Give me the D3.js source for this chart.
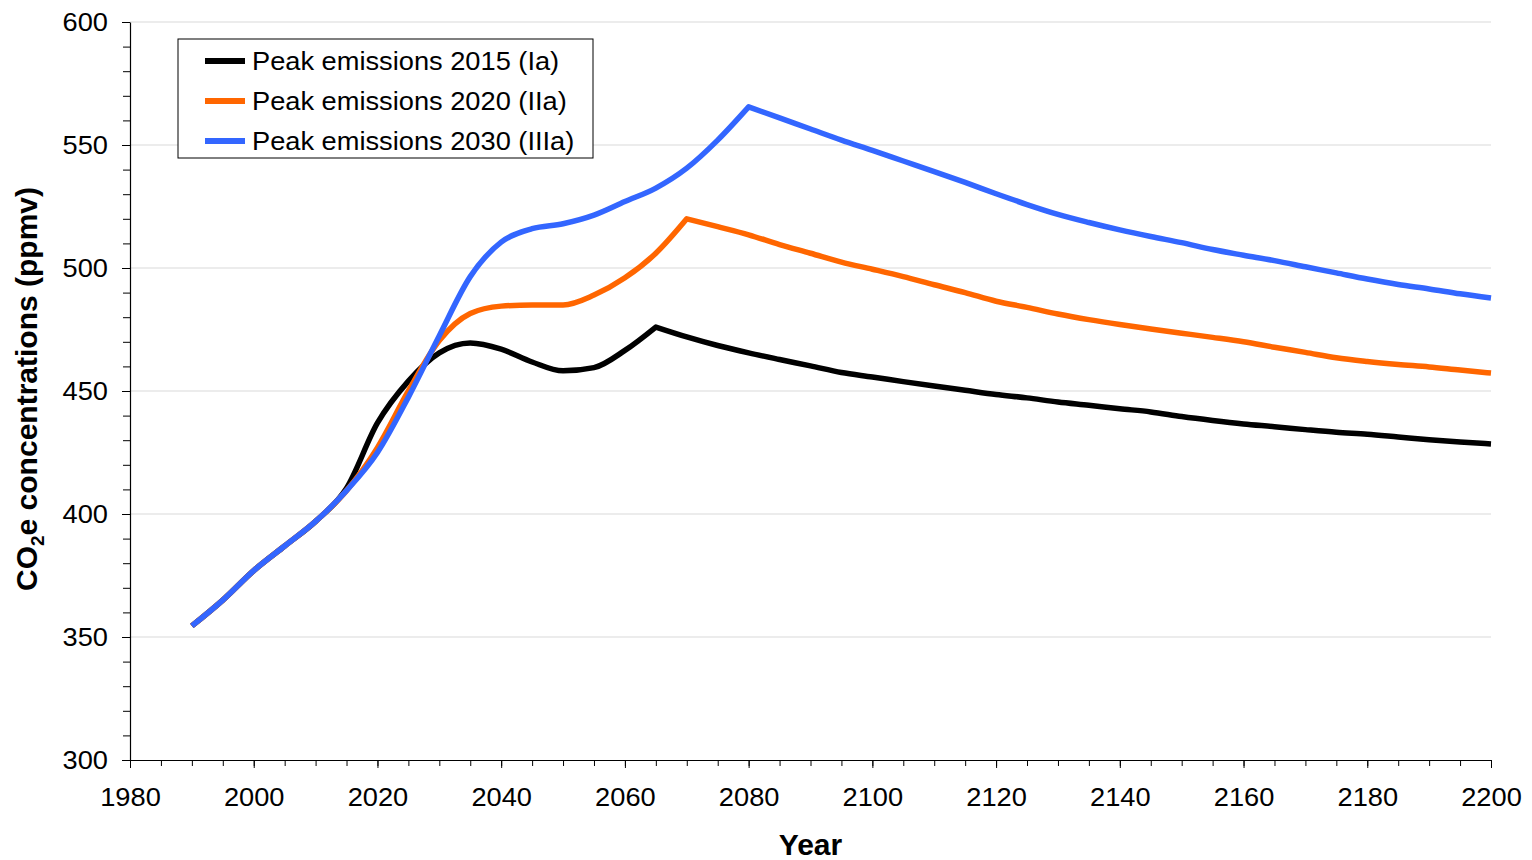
<!DOCTYPE html>
<html>
<head>
<meta charset="utf-8">
<script src="https://cdn.jsdelivr.net/npm/d3@7"></script>
<style>
  body { margin: 0; background: #fff; }
  svg text { font-family: "Liberation Sans", Arial, sans-serif; fill: #000; }
  .wide { transform-box: fill-box; transform: scaleX(1.09); }
  .y-lab { transform-origin: right center; }
  .x-lab { transform-origin: center center; }
  .leg-lab { transform-origin: left center; }
</style>
</head>
<body>
<svg id="chart"></svg>
<script>
// years sampled every 5 years
const years = d3.range(1990, 2201, 5);

const peak2015 = [354.5, 365, 377, 387, 397, 410.5, 437, 454, 465.5, 469.5, 467, 461.8, 458.2, 459.5, 466.5, 476,
  472, 468.5, 465.5, 462.8, 460.2, 457.5, 455.7, 453.8, 452, 450.3, 448.6, 447.2, 445.5, 444.2, 442.8,
  441.5, 439.6, 438, 436.6, 435.5, 434.3, 433.2, 432.4, 431.3, 430.2, 429.3, 428.5];
const peak2020 = [354.5, 365, 377, 387, 397, 409.5, 427, 450, 470.5, 481.5, 484.5, 485, 485, 489, 496, 506,
  520, 516.8, 513.5, 509.5, 506, 502.4, 499.5, 496.5, 493.2, 490, 486.5, 484, 481.3, 479, 477,
  475.2, 473.5, 471.8, 470, 467.8, 465.7, 463.5, 462, 460.8, 459.8, 458.5, 457.3];
const peak2030 = [354.5, 365, 377, 387, 397, 409.5, 425, 447.5, 472.5, 496.5, 510.5, 516, 518, 521.5, 527, 532.5,
  540.6, 552, 565.5, 561, 556.5, 552, 547.8, 543.5, 539.2, 534.8, 530.2, 525.8, 521.8, 518.5, 515.5,
  512.8, 510.3, 507.5, 505.2, 503, 500.5, 498, 495.5, 493.3, 491.5, 489.5, 487.8];

const seriesNames = ["Peak emissions 2015 (Ia)", "Peak emissions 2020 (IIa)", "Peak emissions 2030 (IIIa)"];
const seriesColors = ["#000000", "#ff6600", "#3366ff"];
const seriesValues = [peak2015, peak2020, peak2030];

const xTicks = d3.range(1980, 2201, 20);
const yTicks = d3.range(300, 601, 50);

const width = 1532, height = 860;
const margin = {top: 22, right: 41, bottom: 100, left: 130};
const innerW = width - margin.left - margin.right;
const innerH = height - margin.top - margin.bottom;

const svg = d3.select("#chart").attr("width", width).attr("height", height);
const chart = svg.append("g").attr("transform", `translate(${margin.left},${margin.top})`);

const x = d3.scaleLinear().domain([1980, 2200]).range([0, innerW]);
const y = d3.scaleLinear().domain([300, 600]).range([innerH, 0]);

// gridlines
chart.append("g")
  .selectAll("line")
  .data(yTicks.slice(1))
  .join("line")
    .attr("x1", 0).attr("x2", innerW)
    .attr("y1", d => y(d)).attr("y2", d => y(d))
    .attr("stroke", "#d9d9d9").attr("stroke-width", 1);

// minor ticks
chart.append("g")
  .call(d3.axisLeft(y).tickValues(d3.range(300, 601, 10)).tickSize(7).tickFormat(""))
  .call(g => g.select(".domain").remove())
  .selectAll("line").attr("stroke", "#000");
chart.append("g")
  .attr("transform", `translate(0,${innerH})`)
  .call(d3.axisBottom(x).tickValues(d3.range(1980, 2201, 5)).tickSize(6).tickFormat(""))
  .call(g => g.select(".domain").remove())
  .selectAll("line").attr("stroke", "#000");

// main axes
const yAxis = chart.append("g")
  .call(d3.axisLeft(y).tickValues(yTicks).tickSize(8).tickPadding(14).tickSizeOuter(0));
const xAxis = chart.append("g")
  .attr("transform", `translate(0,${innerH})`)
  .call(d3.axisBottom(x).tickValues(xTicks).tickFormat(d3.format("d")).tickSize(8).tickPadding(20).tickSizeOuter(0));

[yAxis, xAxis].forEach(a => {
  a.select(".domain").attr("stroke", "#000").attr("stroke-width", 1.2);
  a.selectAll("line").attr("stroke", "#000");
  a.selectAll("text").attr("font-size", 25).attr("fill", "#000")
    .style("font-family", "'Liberation Sans', Arial, sans-serif");
});
yAxis.selectAll("text").attr("class", "wide y-lab");
xAxis.selectAll("text").attr("class", "wide x-lab");

// smooth curve on each side of the peak, sharp corner at the peak
const line = d3.line()
  .x(d => x(d[0]))
  .y(d => y(d[1]))
  .curve(d3.curveMonotoneX);

function peakPath(vals) {
  const pts = vals.map((v, i) => [years[i], v]);
  const k = d3.maxIndex(vals);
  const a = line(pts.slice(0, k + 1));
  const b = line(pts.slice(k));
  return a + "L" + b.slice(1);
}

// black first, blue on top (shared early part shows blue)
[0, 1, 2].forEach(k => {
  chart.append("path")
    .attr("fill", "none")
    .attr("stroke", seriesColors[k])
    .attr("stroke-width", 5.5)
    .attr("stroke-linejoin", "round")
    .attr("d", peakPath(seriesValues[k]));
});

// axis titles
svg.append("text")
  .attr("x", margin.left + innerW / 2)
  .attr("y", 855)
  .attr("text-anchor", "middle")
  .attr("font-size", 30)
  .attr("font-weight", "bold")
  .text("Year");

const yTitle = svg.append("text")
  .attr("transform", `translate(37,${margin.top + innerH / 2 - 2}) rotate(-90)`)
  .attr("text-anchor", "middle")
  .attr("font-size", 30)
  .attr("font-weight", "bold");
yTitle.append("tspan").text("CO");
yTitle.append("tspan").attr("font-size", 19).attr("dy", 7).text("2");
yTitle.append("tspan").attr("dy", -7).text("e concentrations (ppmv)");

// legend
const legend = svg.append("g").attr("transform", "translate(178,39)");
legend.append("rect")
  .attr("width", 415).attr("height", 119)
  .attr("fill", "#fff").attr("stroke", "#000").attr("stroke-width", 1);
seriesNames.forEach((name, i) => {
  const row = legend.append("g").attr("transform", `translate(0,${22 + i * 40})`);
  row.append("line")
    .attr("x1", 27).attr("x2", 67)
    .attr("stroke", seriesColors[i]).attr("stroke-width", 6);
  row.append("text")
    .attr("class", "wide leg-lab")
    .attr("x", 74).attr("y", 9)
    .attr("font-size", 25)
    .text(name);
});
</script>
</body>
</html>
